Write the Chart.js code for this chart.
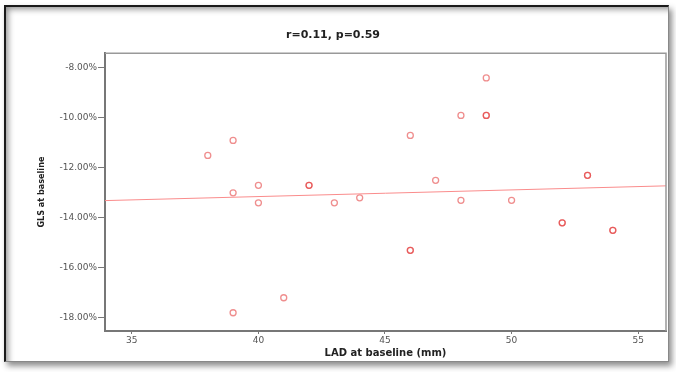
<!DOCTYPE html>
<html>
<head>
<meta charset="utf-8">
<script src="https://cdn.jsdelivr.net/npm/chart.js@4/dist/chart.umd.min.js"></script>
<style>
    body { margin: 0; background: #fff; }
    #wrap { position: relative; width: 676px; height: 372px; }
    #frame {
        position: absolute; left: 4px; top: 5px; width: 665px; height: 357px;
        box-sizing: border-box;
        border-top: 2px solid #1a1a1a; border-left: 2px solid #1a1a1a;
        border-right: 1px solid #888; border-bottom: 1px solid #888;
        box-shadow: inset 5px 5px 6px -3px rgba(0,0,0,0.45), 3px 4px 6px rgba(0,0,0,0.45);
        pointer-events: none;
    }
</style>
</head>
<body>
<div id="wrap">
    <canvas id="chart" width="676" height="372"></canvas>
    <div id="frame"></div>
</div>
<script>
// LAD (mm) vs GLS (%) at baseline
const lad = [38, 39, 39, 39, 40, 40, 41, 42, 42, 43, 44, 46, 46, 46, 47, 48, 48, 49, 49, 49, 50, 52, 52, 53, 53, 54, 54];
const gls = [-11.5, -10.9, -13.0, -17.8, -12.7, -13.4, -17.2, -12.7, -12.7, -13.4, -13.2, -10.7, -15.3, -15.3, -12.5, -9.9, -13.3, -8.4, -9.9, -9.9, -13.3, -14.2, -14.2, -12.3, -12.3, -14.5, -14.5];

// fit line end points
const fitX = [33.94, 56.1];
const fitY = [-13.31, -12.72];

const xTicks = [35, 40, 45, 50, 55];
const yTicks = [-18, -16, -14, -12, -10, -8];

const titleText = "r=0.11, p=0.59";
const xTitle = "LAD at baseline (mm)";
const yTitle = "GLS at baseline";

// grey box round the plot (top and right sides)
const plotBox = {
    id: 'plotBox',
    afterDraw(chart) {
        const { ctx, chartArea: a } = chart;
        ctx.save();
        ctx.strokeStyle = '#999';
        ctx.lineWidth = 1.5;
        ctx.beginPath();
        ctx.moveTo(a.left, a.top);
        ctx.lineTo(a.right, a.top);
        ctx.lineTo(a.right, a.bottom);
        ctx.stroke();
        ctx.restore();
    }
};

new Chart(document.getElementById('chart'), {
    type: 'scatter',
    data: {
        datasets: [
            {
                type: 'line',
                data: fitX.map((x, i) => ({ x: x, y: fitY[i] })),
                borderColor: 'rgb(250, 140, 140)',
                borderWidth: 1,
                pointRadius: 0,
                fill: false,
            },
            {
                data: lad.map((x, i) => ({ x: x, y: gls[i] })),
                pointStyle: 'circle',
                pointRadius: 3,
                pointBorderWidth: 1.3,
                pointBorderColor: 'rgba(225, 50, 50, 0.55)',
                pointBackgroundColor: 'rgba(255, 255, 255, 0)',
            }
        ]
    },
    options: {
        responsive: false,
        animation: false,
        layout: { padding: { left: 0, right: 10, top: 0, bottom: 0 } },
        plugins: {
            legend: { display: false },
            tooltip: { enabled: false },
            title: {
                display: true,
                text: titleText,
                color: '#222',
                font: { family: 'DejaVu Sans', size: 11, weight: 'bold' },
                padding: { top: 29, bottom: 11 },
            },
        },
        scales: {
            x: {
                type: 'linear',
                min: 33.94,
                max: 56.1,
                afterBuildTicks: s => { s.ticks = xTicks.map(v => ({ value: v })); },
                afterFit: s => { s.height = 41; },
                ticks: {
                    color: '#555',
                    padding: 1,
                    font: { family: 'DejaVu Sans', size: 9 },
                },
                grid: { drawOnChartArea: false, drawTicks: true, tickLength: 3, color: '#777' },
                border: { display: true, color: '#777', width: 2 },
                title: {
                    display: true,
                    text: xTitle,
                    color: '#222',
                    font: { family: 'DejaVu Sans', size: 10, weight: 'bold' },
                    padding: { top: 0, bottom: 13 },
                },
            },
            y: {
                type: 'linear',
                min: -18.53,
                max: -7.41,
                afterBuildTicks: s => { s.ticks = yTicks.map(v => ({ value: v })); },
                afterFit: s => { s.width = 105; },
                ticks: {
                    color: '#555',
                    padding: 1,
                    font: { family: 'DejaVu Sans', size: 9 },
                    callback: v => v.toFixed(2) + '%',
                },
                grid: { drawOnChartArea: false, drawTicks: true, tickLength: 7, color: '#777' },
                border: { display: true, color: '#777', width: 2 },
                title: {
                    display: true,
                    text: yTitle,
                    color: '#222',
                    font: { family: '"Liberation Sans Narrow", "DejaVu Sans Condensed", "Roboto Condensed", sans-serif', size: 9, weight: 'bold' },
                    padding: { top: 36, bottom: 0 },
                },
            },
        },
    },
    plugins: [plotBox],
});
</script>
</body>
</html>
